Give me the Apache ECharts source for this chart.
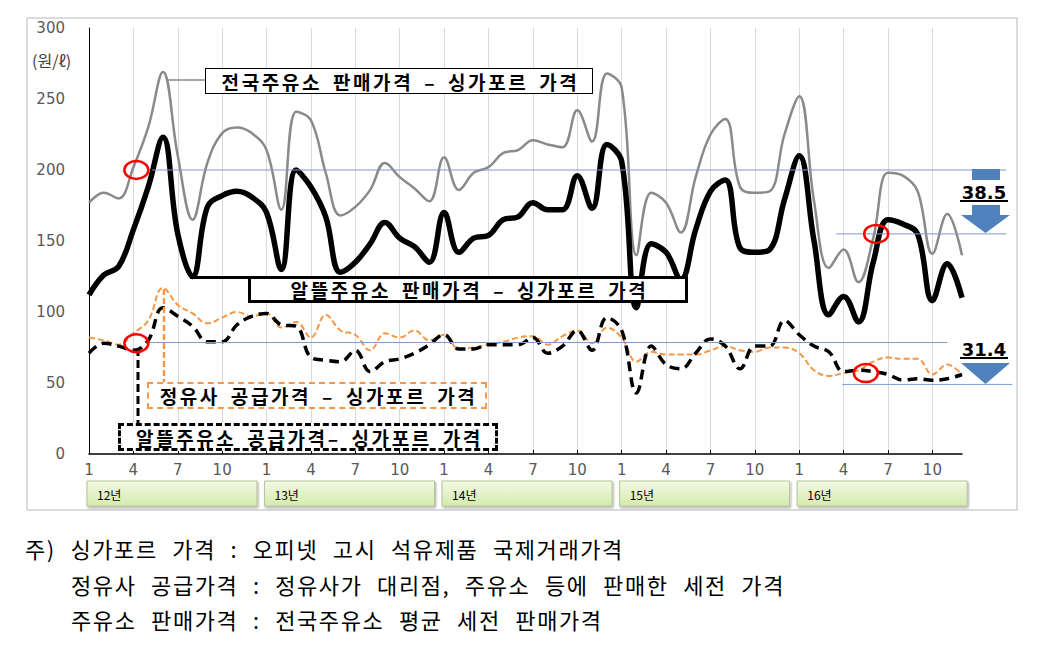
<!DOCTYPE html>
<html>
<head>
<meta charset="utf-8">
<script src="https://cdn.jsdelivr.net/npm/echarts@6/dist/echarts.min.js"></script>
<style>
  html, body { margin: 0; padding: 0; background: #fff; }
  #wrap { position: relative; width: 1055px; height: 650px; overflow: hidden; }
  #chart { position: absolute; left: 0; top: 0; width: 1055px; height: 650px; }
  .box { position: absolute; box-sizing: border-box; background: #fff; display: flex;
         align-items: center; justify-content: center; white-space: nowrap;
         font-family: "Noto Sans CJK KR", sans-serif; font-weight: 700; font-size: 19px;
         letter-spacing: 2.6px; word-spacing: 4px; padding-left: 3px; color: #000; z-index: 2; line-height: 1; }
  .note { position: absolute; white-space: nowrap; font-family: "Noto Sans CJK KR", sans-serif;
          font-size: 22px; letter-spacing: 1.6px; word-spacing: 8px; color: #000; line-height: 24px; }
</style>
</head>
<body>
<div id="wrap">
  <div id="chart"></div>
  <div class="box" id="boxA" style="left:205px;top:68px;width:388px;height:26px;border:1px solid #000;">전국주유소 판매가격 – 싱가포르 가격</div>
  <div class="box" id="boxB" style="left:248px;top:276px;width:440px;height:27px;border:3px solid #000;">알뜰주유소 판매가격 – 싱가포르 가격</div>
  <div class="box" id="boxC" style="left:147px;top:382px;width:340px;height:27px;border:2.5px dashed #f79646;">정유사 공급가격 – 싱가포르 가격</div>
  <div class="box" id="boxD" style="left:118px;top:423px;width:380px;height:28px;border:3px dashed #000;">알뜰주유소 공급가격– 싱가포르 가격</div>
  <div class="note" style="left:25px;top:536px;">주) 싱가포르 가격 : 오피넷 고시 석유제품 국제거래가격</div>
  <div class="note" style="left:71px;top:572px;">정유사 공급가격 : 정유사가 대리점, 주유소 등에 판매한 세전 가격</div>
  <div class="note" style="left:71px;top:607px;">주유소 판매가격 : 전국주유소 평균 세전 판매가격</div>
</div>
<script>
// ---- data ----
const years = ['12년', '13년', '14년', '15년', '16년'];
const months = ['1', '2', '3', '4', '5', '6', '7', '8', '9', '10', '11', '12'];
const monthTicks = ['1', '4', '7', '10'];
const categories = [];
years.forEach(function (y) { months.forEach(function (m) { categories.push(y + ' ' + m + '월'); }); });

// 전국주유소 판매가격 – 싱가포르 가격
const nationalRetail = [177, 184, 180, 202, 230, 269, 210, 165, 205, 226, 230, 226,
                        214, 172, 241, 235, 198, 168, 174, 186, 205, 195, 187, 178,
                        209, 186, 198, 202, 212, 214, 221, 218, 216, 242, 220, 268,
                        258, 140, 184, 177, 156, 195, 225, 236, 188, 184, 185, 225,
                        252, 178, 131, 144, 121, 152, 198, 196, 185, 141, 169, 140];
// 알뜰주유소 판매가격 – 싱가포르 가격
const alddeulRetail = [112, 126, 132, 158, 188, 223, 155, 125, 174, 182, 185, 181,
                       170, 130, 200, 188, 167, 128, 135, 148, 163, 152, 146, 135,
                       170, 142, 152, 154, 165, 167, 177, 172, 172, 196, 173, 218,
                       206, 103, 148, 142, 123, 158, 185, 193, 145, 142, 144, 179,
                       210, 150, 98, 111, 93, 135, 165, 162, 155, 108, 134, 110];
// 정유사 공급가격 – 싱가포르 가격
const refinerySupply = [82, 80, 77, 85, 94, 117, 105, 99, 92, 96, 100, 97,
                        99, 89, 93, 82, 98, 87, 84, 73, 85, 82, 87, 80,
                        84, 74, 75, 77, 79, 82, 83, 77, 83, 87, 78, 89,
                        82, 65, 72, 70, 70, 70, 73, 76, 73, 72, 75, 75,
                        71, 59, 55, 57, 59, 65, 68, 67, 67, 56, 63, 56];
// 알뜰주유소 공급가격 – 싱가포르 가격
const alddeulSupply = [71, 78, 76, 73, 80, 103, 97, 90, 79, 79, 91, 97,
                       99, 91, 90, 68, 66, 65, 73, 58, 65, 67, 71, 77,
                       84, 74, 74, 77, 77, 77, 82, 71, 76, 87, 73, 96,
                       87, 43, 76, 63, 60, 71, 81, 76, 60, 76, 76, 94,
                       84, 76, 72, 58, 59, 58, 56, 52, 53, 52, 53, 56];

// annotation anchors in data units (category index, value)
const circleMarks = [[3.2, 200], [53.2, 155], [3.2, 78], [52.5, 57]];
const refLines = [[4.26, 62.0, 200], [50.5, 62.0, 155], [3.9, 58.0, 78.5], [50.9, 62.4, 49]];
const diffLabels = ['38.5', '31.4'];

const chart = echarts.init(document.getElementById('chart'), null, { renderer: 'svg' });

const baseFont = 'DejaVu Sans';
chart.setOption({
  animation: false,
  grid: { left: 89, right: 93, top: 28, bottom: 196, outerBoundsMode: 'none' },
  xAxis: {
    type: 'category', data: categories, boundaryGap: false,
    axisLine: { lineStyle: { color: '#000', width: 1.5 } },
    axisTick: { show: true, inside: true, length: 4, interval: 2, lineStyle: { color: '#000' } },
    axisLabel: {
      interval: 2, color: '#595959', fontFamily: baseFont, fontSize: 15, margin: 8,
      formatter: function (v, idx) { return monthTicks[(idx % 12) / 3]; }
    },
    splitLine: { show: true, interval: 2, lineStyle: { color: '#d9d9d9', width: 1 } }
  },
  yAxis: {
    type: 'value', min: 0, max: 300, interval: 50,
    axisLine: { show: true, lineStyle: { color: '#000', width: 1 } },
    axisTick: { show: false },
    splitLine: { show: false },
    axisLabel: { color: '#595959', fontFamily: baseFont, fontSize: 15, margin: 24 }
  },
  series: [
    { name: '전국주유소 판매가격 – 싱가포르 가격', type: 'line', data: nationalRetail, smooth: 0.4, symbol: 'none', z: 2,
      lineStyle: { color: '#8a8a8a', width: 2.5 } },
    { name: '정유사 공급가격 – 싱가포르 가격', type: 'line', data: refinerySupply, smooth: 0.4, symbol: 'none', z: 3,
      lineStyle: { color: '#f79646', width: 2, type: [6, 3] } },
    { name: '알뜰주유소 공급가격 – 싱가포르 가격', type: 'line', data: alddeulSupply, smooth: 0.4, symbol: 'none', z: 4,
      lineStyle: { color: '#000', width: 3.5, type: [10, 6] } },
    { name: '알뜰주유소 판매가격 – 싱가포르 가격', type: 'line', data: alddeulRetail, smooth: 0.4, symbol: 'none', z: 5,
      lineStyle: { color: '#000', width: 5.5 } }
  ]
});

// pixel mapping from data units (supports fractional indices)
const pA = chart.convertToPixel({ gridIndex: 0 }, [0, 0]);
const pB = chart.convertToPixel({ gridIndex: 0 }, [59, 300]);
function px(i) { return pA[0] + i * (pB[0] - pA[0]) / 59; }
function py(v) { return pA[1] + v * (pB[1] - pA[1]) / 300; }

const g = [];
// outer frame
g.push({ type: 'rect', shape: { x: 27, y: 18, width: 990, height: 492 }, style: { fill: 'none', stroke: '#d0d0d0', lineWidth: 1.5 }, z: 0, silent: true });
// unit label
g.push({ type: 'text', style: { text: '(원/ℓ)', x: 32, y: 60, verticalAlign: 'middle', font: '16px "Noto Sans CJK KR"', fill: '#404040' }, z: 10 });
// year boxes
years.forEach(function (y, k) {
  const x0 = px(12 * k) - 2, x1 = px(12 * k + 11.35);
  g.push({ type: 'rect', shape: { x: x0, y: 481, width: x1 - x0, height: 25 },
    style: { fill: new echarts.graphic.LinearGradient(0, 0, 0, 1, [{ offset: 0, color: '#f3f9e3' }, { offset: 1, color: '#d5eaaf' }]),
      stroke: '#b5c59a', lineWidth: 1, shadowBlur: 2, shadowColor: 'rgba(0,0,0,0.35)', shadowOffsetX: 1, shadowOffsetY: 1.5 }, z: 10 });
  g.push({ type: 'text', style: { text: y, x: x0 + 10, y: 494, verticalAlign: 'middle', font: '12px "Noto Sans CJK KR"', fill: '#000' }, z: 11 });
});
// reference lines
refLines.forEach(function (r) {
  g.push({ type: 'line', shape: { x1: px(r[0]), y1: py(r[2]), x2: px(r[1]), y2: py(r[2]) }, style: { stroke: '#7d9acb', lineWidth: 1 }, z: 6 });
});
// red circles
circleMarks.forEach(function (c) {
  g.push({ type: 'ellipse', shape: { cx: px(c[0]), cy: py(c[1]), rx: 12, ry: 9 }, style: { fill: 'none', stroke: '#ff0000', lineWidth: 2.5 }, z: 20 });
});
// connectors
g.push({ type: 'line', shape: { x1: 168, y1: 80, x2: 205, y2: 80 }, style: { stroke: '#8a8a8a', lineWidth: 1.5 }, z: 8 });
g.push({ type: 'line', shape: { x1: 190, y1: 277.5, x2: 250, y2: 277.5 }, style: { stroke: '#000', lineWidth: 3 }, z: 8 });
g.push({ type: 'line', shape: { x1: 164, y1: 289, x2: 164, y2: 383 }, style: { stroke: '#f79646', lineWidth: 2.5, lineDash: [6, 3] }, z: 8 });
g.push({ type: 'line', shape: { x1: 138, y1: 348, x2: 138, y2: 424 }, style: { stroke: '#000', lineWidth: 3, lineDash: [8, 4] }, z: 8 });
// arrows
const blue = '#4f81bd';
g.push({ type: 'rect', shape: { x: 972, y: 169, width: 28, height: 11 }, style: { fill: blue }, z: 12 });
g.push({ type: 'rect', shape: { x: 972, y: 205, width: 28, height: 11 }, style: { fill: blue }, z: 12 });
g.push({ type: 'polygon', shape: { points: [[961, 215], [1010, 215], [985.5, 233]] }, style: { fill: blue }, z: 12 });
g.push({ type: 'polygon', shape: { points: [[961, 363], [1010, 363], [985.5, 384]] }, style: { fill: blue }, z: 12 });
g.push({ type: 'text', style: { text: diffLabels[0], x: 984, y: 192, align: 'center', verticalAlign: 'middle', font: 'bold 18px "DejaVu Sans"', fill: '#000' }, z: 13 });
g.push({ type: 'line', shape: { x1: 960, y1: 201, x2: 1008, y2: 201 }, style: { stroke: '#000', lineWidth: 2 }, z: 13 });
g.push({ type: 'text', style: { text: diffLabels[1], x: 984, y: 349, align: 'center', verticalAlign: 'middle', font: 'bold 18px "DejaVu Sans"', fill: '#000' }, z: 13 });
g.push({ type: 'line', shape: { x1: 960, y1: 358, x2: 1008, y2: 358 }, style: { stroke: '#000', lineWidth: 2 }, z: 13 });

chart.setOption({ graphic: g });
</script>
</body>
</html>
